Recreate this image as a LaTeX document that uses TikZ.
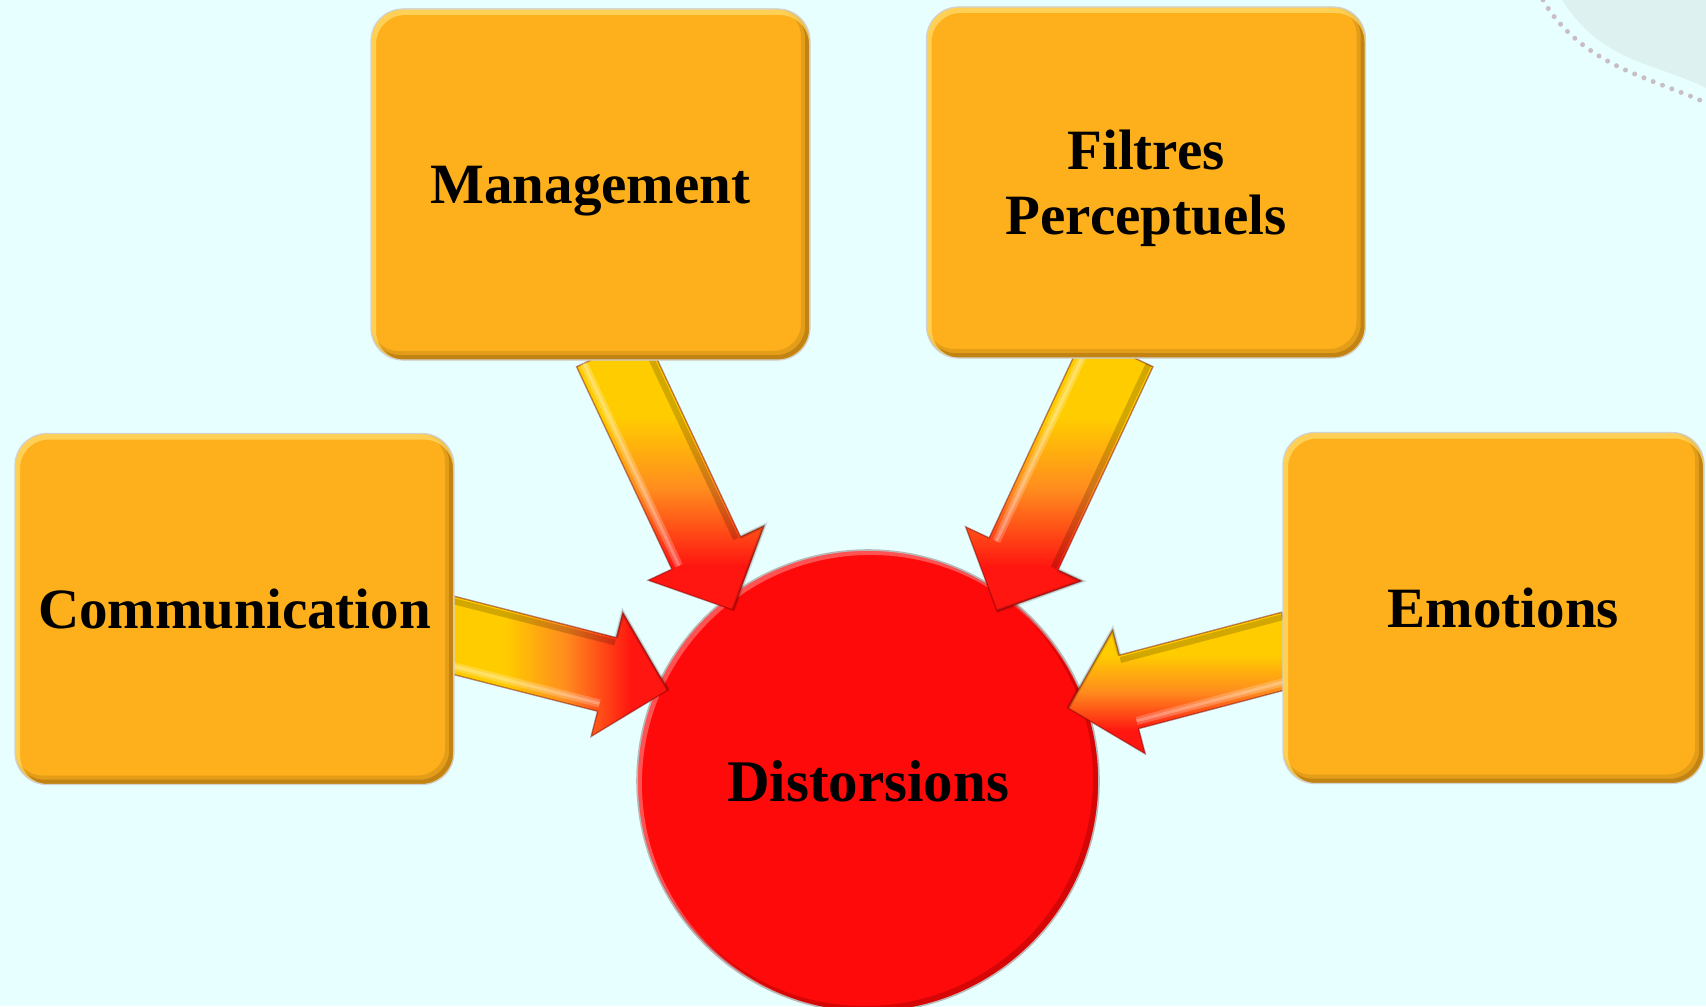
\documentclass[tikz,border=0pt]{standalone}
\usepackage{fontspec}
\setmainfont{Liberation Serif}
\usetikzlibrary{calc}
\definecolor{bgc}{RGB}{232,255,255}
\definecolor{decoc}{RGB}{221,242,240}
\definecolor{dotc}{RGB}{200,190,196}
\definecolor{boxfill}{RGB}{253,176,27}
\definecolor{boxrim}{RGB}{140,92,16}
\definecolor{boxhi}{RGB}{255,222,110}
\definecolor{circred}{RGB}{255,10,10}
\definecolor{arYellow}{RGB}{255,204,0}
\definecolor{arOrange}{RGB}{255,140,30}
\definecolor{arRed}{RGB}{255,22,16}
\pgfdeclareverticalshading{arrowshade}{100bp}{color(0bp)=(arRed); color(25bp)=(arRed); color(33bp)=(arRed); color(47bp)=(arOrange); color(60bp)=(arYellow); color(75bp)=(arYellow); color(100bp)=(arYellow)}
\pgfdeclarelayer{bglayer}
\pgfdeclarelayer{arrowlayer}
\pgfdeclarelayer{toplayer}
\pgfsetlayers{bglayer,main,arrowlayer,toplayer}
% #1 start, #2 tip, #3 options, #4 side of the highlight (1 or -1)
\newcommand\fatarrow[4]{%
  \coordinate (#1H) at ($(#2)!31.5pt!(#1)$);
  \shade[arrowbody,#3] ($(#1)!19pt!90:(#2)$) -- ($(#1H)!19pt!90:(#2)$) -- ($(#1H)!32pt!90:(#2)$) -- (#2)
    -- ($(#1H)!32pt!-90:(#2)$) -- ($(#1H)!19pt!-90:(#2)$) -- ($(#1)!19pt!-90:(#2)$) -- cycle;
  \draw[white, opacity=.22, line width=4pt]
    ($(#1)!15pt!{#4*90}:(#2)$) -- ($(#1H)!15pt!{#4*90}:(#2)$);
  \draw[white, opacity=.25, line width=1.5pt]
    ($(#1)!15pt!{#4*90}:(#2)$) -- ($(#1H)!15pt!{#4*90}:(#2)$);
  \draw[black, opacity=.18, line width=3pt]
    ($(#1)!16.5pt!{-#4*90}:(#2)$) -- ($(#1H)!16.5pt!{-#4*90}:(#2)$);
  \draw[black, opacity=.13, line width=2pt]
    ($(#1H)!19pt!{-#4*90}:(#2)$) -- ($(#1H)!32pt!{-#4*90}:(#2)$) -- (#2);
}
\tikzset{
  boxnode/.style={rectangle, rounded corners=16pt, minimum width=219.5pt, minimum height=175.5pt,
    fill=boxfill, draw=gray!35, line width=0.6pt, inner sep=0pt, align=center, text depth=0pt,
    font=\fontsize{28.5}{32.5}\selectfont\bfseries,
    path picture={
      \draw[boxrim, line width=4.5pt, rounded corners=16pt, opacity=.22]
        ([xshift=-2.25pt,yshift=2.25pt]path picture bounding box.south west) rectangle
        ([xshift=-2.25pt,yshift=2.25pt]path picture bounding box.north east);
      \draw[boxrim, line width=2.4pt, rounded corners=16pt, opacity=.4]
        ([xshift=-1.2pt,yshift=1.2pt]path picture bounding box.south west) rectangle
        ([xshift=-1.2pt,yshift=1.2pt]path picture bounding box.north east);
      \draw[boxhi, line width=3pt, rounded corners=16pt, opacity=.7]
        ([xshift=1pt,yshift=-1.5pt]path picture bounding box.south west) rectangle
        ([xshift=1pt,yshift=-1.5pt]path picture bounding box.north east);
    }},
  circnode/.style={circle, minimum size=231pt, inner sep=0pt, fill=circred, draw=gray!55, line width=0.8pt,
    font=\fontsize{29.5}{32.5}\selectfont\bfseries,
    path picture={
      \draw[red!55!black, line width=3pt, opacity=.35]
        ([xshift=-1.5pt,yshift=1.5pt]path picture bounding box.center) circle (115.5pt);
      \draw[white, line width=2.5pt, opacity=.3]
        ([xshift=1.2pt,yshift=-1.2pt]path picture bounding box.center) circle (115.5pt);
    }},
  arrowbody/.style={shading=arrowshade, draw=red!45!black, draw opacity=.45, line width=0.7pt, line join=miter}
}
\begin{document}
\begin{tikzpicture}[x=0.5pt,y=-0.5pt]
\useasboundingbox (0,0) rectangle (1706,1006);
\begin{pgfonlayer}{bglayer}
  \fill[bgc] (0,0) rectangle (1706,1006);
  \fill[decoc] (1562,0) .. controls (1585,35) and (1610,52) .. (1650,66)
     .. controls (1675,75) and (1695,82) .. (1706,88) -- (1706,0) -- cycle;
  \draw[dotc, line width=2.5pt, line cap=round, dash pattern=on 0pt off 5pt]
     (1543,0) .. controls (1560,30) and (1590,55) .. (1630,72)
     .. controls (1660,85) and (1690,95) .. (1706,103);
\end{pgfonlayer}

\node[circnode] (dist) at (868,781) {Distorsions};

\begin{pgfonlayer}{toplayer}
  \node[boxnode] (mgmt) at (590.5,184.5) {Management};
  \node[boxnode] (filt) at (1146,182.5) {Filtres\\Perceptuels};
  \node[boxnode] (comm) at (234.5,609) {Communication};
  \node[boxnode, minimum width=210.5pt] (emo) at (1493.5,608) {\hspace*{10pt}Emotions};
\end{pgfonlayer}

\begin{pgfonlayer}{arrowlayer}
  \coordinate (mgS) at ($(mgmt.south)+(20.5,-10)$);
  \coordinate (mgT) at ($(dist.center)+(-135,-171)$);
  \coordinate (fiS) at ($(filt.south)+(-27.5,-8)$);
  \coordinate (fiT) at ($(dist.center)+(129,-170)$);
  \coordinate (coS) at ($(comm.east)+(-10,24)$);
  \coordinate (coT) at ($(dist.center)+(-200,-91)$);
  \coordinate (emS) at ($(emo.west)+(9,41)$);
  \coordinate (emT) at ($(dist.center)+(200,-73)$);
  \fatarrow{mgS}{mgT}{}{-1}
  \fatarrow{fiS}{fiT}{}{-1}
  \fatarrow{coS}{coT}{shading angle=90}{-1}
  \fatarrow{emS}{emT}{}{1}
\end{pgfonlayer}
\end{tikzpicture}
\end{document}
